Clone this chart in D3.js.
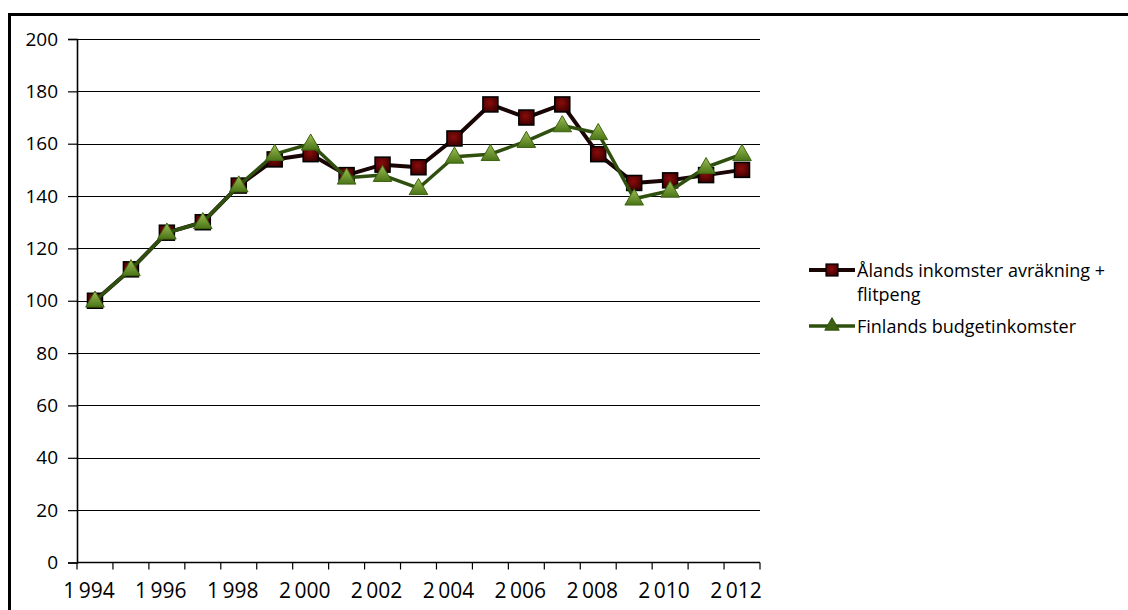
<!DOCTYPE html>
<html>
<head>
<meta charset="utf-8">
<script src="https://cdn.jsdelivr.net/npm/d3@7"></script>
<style>
  html, body { margin: 0; padding: 0; background: #fff; }
  svg { display: block; }
  text { font-family: "Open Sans", "Liberation Sans", sans-serif; fill: #000; }
</style>
</head>
<body>
<svg id="chart" width="1128" height="610"></svg>
<script>
// Index series, 1994 = 100
const years = [1994, 1995, 1996, 1997, 1998, 1999, 2000, 2001, 2002, 2003,
               2004, 2005, 2006, 2007, 2008, 2009, 2010, 2011, 2012];
const alandIncome = [100, 112, 126, 130, 144, 154, 156, 148, 152, 151,
                     162, 175, 170, 175, 156, 145, 146, 148, 150];
const finlandBudget = [100, 112, 126, 130, 144, 156, 160, 147, 148, 143,
                       155, 156, 161, 167, 164, 139, 142, 151, 156];
const yTicks = [0, 20, 40, 60, 80, 100, 120, 140, 160, 180, 200];
const seriesNames = ["Ålands inkomster avräkning +", "flitpeng", "Finlands budgetinkomster"];

const svg = d3.select("#chart");
const plotLeft = 77, plotRight = 760, plotTop = 39, plotBottom = 562.5;

// frame around the chart
svg.append("line").attr("x1", 8).attr("x2", 1128).attr("y1", 14.5).attr("y2", 14.5)
  .attr("stroke", "#000").attr("stroke-width", 3);
svg.append("line").attr("x1", 9.5).attr("x2", 9.5).attr("y1", 13).attr("y2", 610)
  .attr("stroke", "#000").attr("stroke-width", 3);

const x = d3.scaleBand().domain(years).range([plotLeft, plotRight]).padding(0);
const y = d3.scaleLinear().domain([0, 200]).range([plotBottom, plotTop]);
const cx = d => x(d) + x.bandwidth() / 2;

// gradients for the markers
const defs = svg.append("defs");
const rg = defs.append("radialGradient").attr("id", "redFill").attr("cx", "45%").attr("cy", "40%").attr("r", "65%");
rg.append("stop").attr("offset", "0%").attr("stop-color", "#8c0c0c");
rg.append("stop").attr("offset", "100%").attr("stop-color", "#3a0000");
const gg = defs.append("linearGradient").attr("id", "greenFill").attr("x1", 0).attr("y1", 0).attr("x2", 0).attr("y2", 1);
gg.append("stop").attr("offset", "0%").attr("stop-color", "#9dbf55");
gg.append("stop").attr("offset", "100%").attr("stop-color", "#4a7416");

// horizontal gridlines
svg.append("g").selectAll("line").data(yTicks.filter(d => d > 0)).join("line")
  .attr("x1", plotLeft).attr("x2", plotRight)
  .attr("y1", d => Math.round(y(d)) + 0.5).attr("y2", d => Math.round(y(d)) + 0.5)
  .attr("stroke", "#000").attr("stroke-width", 1.2);

// y axis
const yAxis = svg.append("g").attr("transform", `translate(${plotLeft},0)`)
  .call(d3.axisLeft(y).tickValues(yTicks).tickSize(9).tickPadding(10));
yAxis.select(".domain").attr("stroke", "#000").attr("stroke-width", 1.6);
yAxis.selectAll(".tick line").attr("stroke", "#000").attr("stroke-width", 1.2);
yAxis.selectAll(".tick text").attr("font-size", 19)
  .attr("font-family", "'Open Sans', sans-serif").attr("fill", "#000");

// x axis: ticks on band boundaries, labels every second year
const xAxisG = svg.append("g").attr("transform", `translate(0,${plotBottom})`);
xAxisG.append("line").attr("x1", plotLeft).attr("x2", plotRight).attr("y1", 0).attr("y2", 0)
  .attr("stroke", "#000").attr("stroke-width", 1.6);
const bounds = years.map(d => x(d)).concat([plotRight]);
xAxisG.selectAll("line.tk").data(bounds).join("line").attr("class", "tk")
  .attr("x1", d => d).attr("x2", d => d).attr("y1", 0).attr("y2", 7)
  .attr("stroke", "#000").attr("stroke-width", 1.2);
const fmtYear = d => String(d).charAt(0) + "\u2009" + String(d).slice(1);
xAxisG.selectAll("text").data(years.filter((d, i) => i % 2 === 0)).join("text")
  .attr("x", d => cx(d) - 6).attr("y", 35)
  .attr("text-anchor", "middle").attr("font-size", 21)
  .text(fmtYear);

const line = d3.line().x((d, i) => cx(years[i])).y(d => y(d));

// Åland series
svg.append("path").datum(alandIncome).attr("d", line)
  .attr("fill", "none").attr("stroke", "#1a0505").attr("stroke-width", 4).attr("stroke-linejoin", "round");
svg.append("g").selectAll("rect").data(alandIncome).join("rect")
  .attr("x", (d, i) => cx(years[i]) - 7.5).attr("y", d => y(d) - 7.5)
  .attr("width", 15).attr("height", 15)
  .attr("fill", "url(#redFill)").attr("stroke", "#000").attr("stroke-width", 1.5);

// Finland series
const tri = d3.symbol().type(d3.symbolTriangle).size(150);
svg.append("path").datum(finlandBudget).attr("d", line)
  .attr("fill", "none").attr("stroke", "#2f4f0e").attr("stroke-width", 3.5).attr("stroke-linejoin", "round");
svg.append("g").selectAll("path").data(finlandBudget).join("path")
  .attr("transform", (d, i) => `translate(${cx(years[i])},${y(d) + 1})`)
  .attr("d", tri)
  .attr("fill", "url(#greenFill)").attr("stroke", "#3d6312").attr("stroke-width", 1);

// legend
const lg = svg.append("g");
lg.append("line").attr("x1", 809).attr("x2", 855).attr("y1", 270).attr("y2", 270)
  .attr("stroke", "#1a0505").attr("stroke-width", 4);
lg.append("rect").attr("x", 826).attr("y", 264).attr("width", 12).attr("height", 12)
  .attr("fill", "url(#redFill)").attr("stroke", "#000").attr("stroke-width", 1.2);
lg.append("text").attr("x", 857).attr("y", 277).attr("font-size", 18).text(seriesNames[0]);
lg.append("text").attr("x", 857).attr("y", 301).attr("font-size", 18).text(seriesNames[1]);
lg.append("line").attr("x1", 809).attr("x2", 855).attr("y1", 326).attr("y2", 326)
  .attr("stroke", "#2f4f0e").attr("stroke-width", 3.5);
lg.append("path").attr("transform", "translate(832,326)").attr("d", d3.symbol().type(d3.symbolTriangle).size(90))
  .attr("fill", "#3d6312").attr("stroke", "#2f4f0e").attr("stroke-width", 1);
lg.append("text").attr("x", 857).attr("y", 333).attr("font-size", 18).text(seriesNames[2]);
</script>
</body>
</html>
